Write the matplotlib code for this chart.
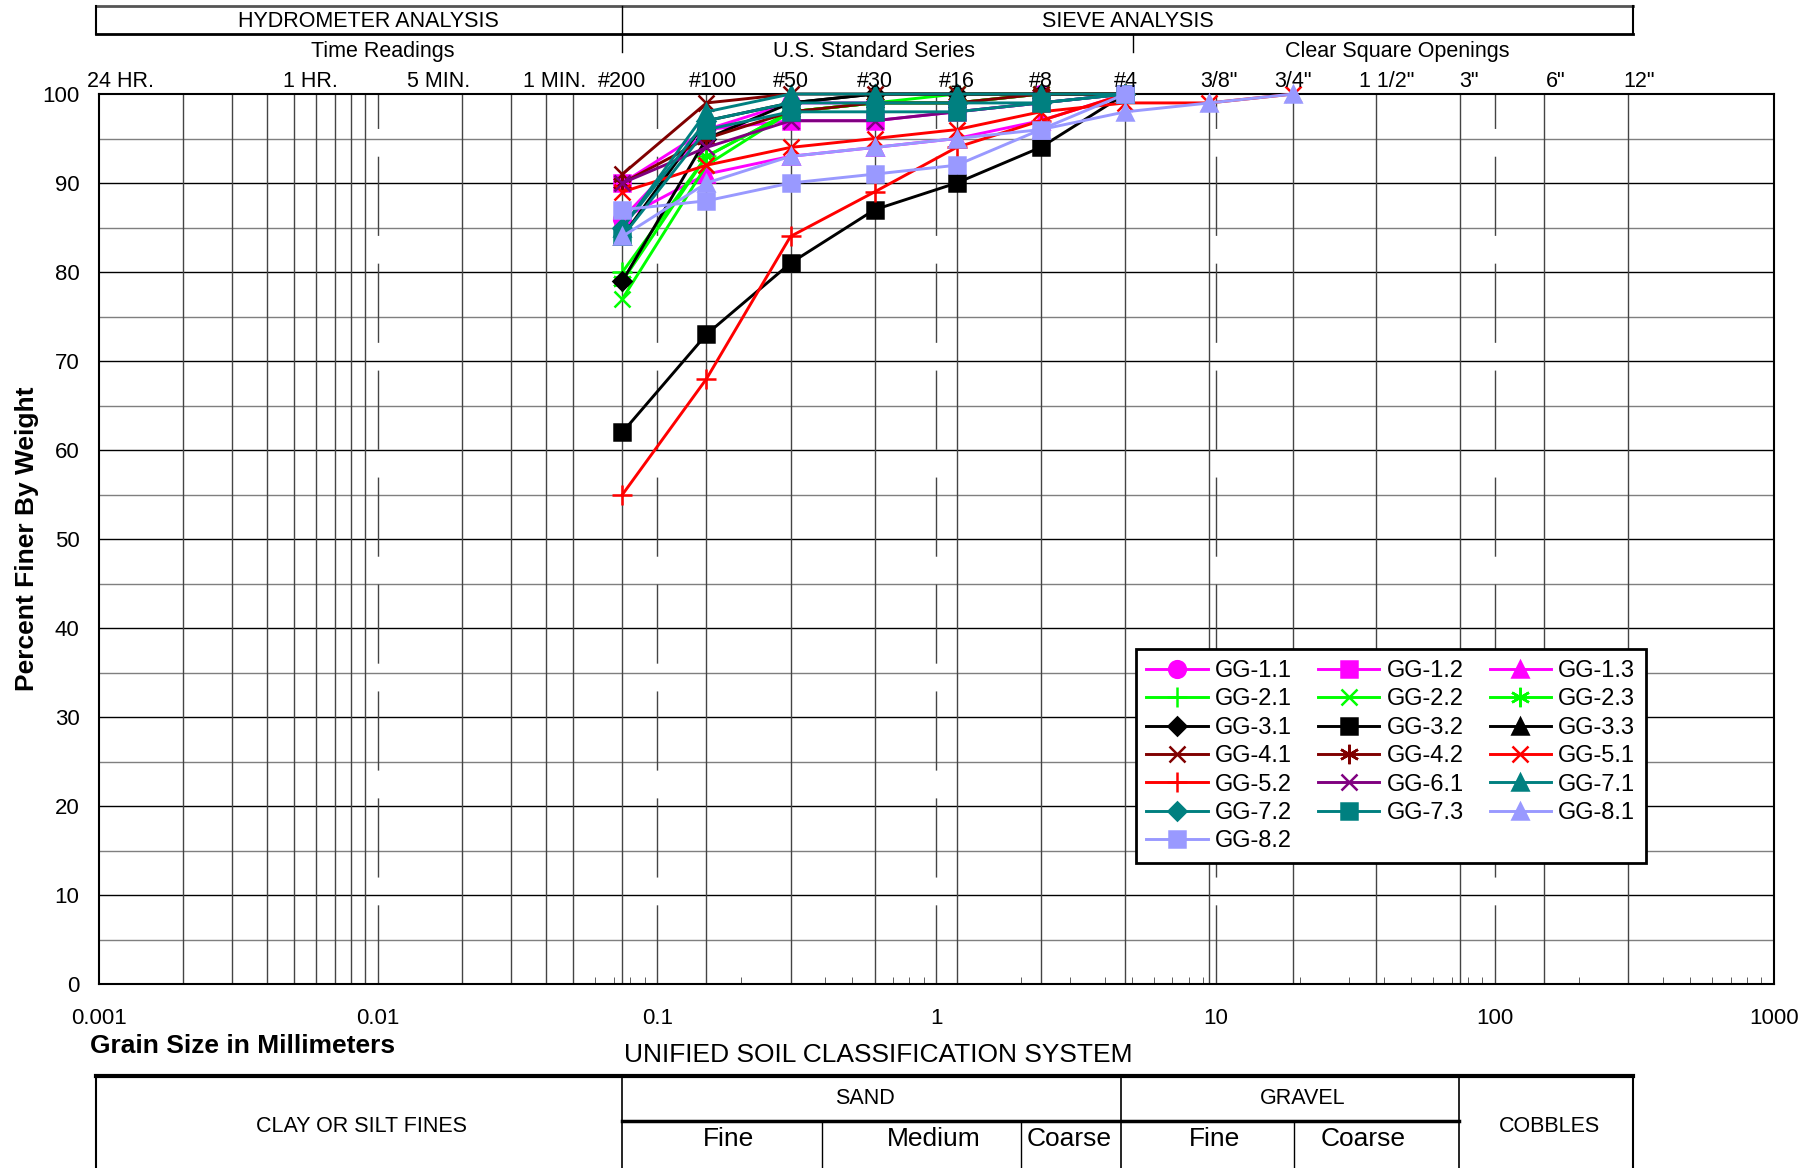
import numpy as np
import matplotlib.pyplot as plt
from matplotlib.lines import Line2D

plt.rcParams['font.family'] = ['Liberation Sans', 'DejaVu Sans']

# sieve openings in mm (#200 ... 3/4")
sieve = [0.075, 0.15, 0.3, 0.6, 1.18, 2.36, 4.75, 9.5, 19.0]

# percent finer
gg_1_1 = [86, 96, 99, 99, 99, 100, 100]
gg_1_2 = [90, 96, 97, 97, 98, 99, 100]
gg_1_3 = [86, 91, 93, 94, 95, 97, 100]
gg_2_1 = [80, 93, 98, 99, 99, 100, 100]
gg_2_2 = [77, 92, 98, 99, 100, 100, 100]
gg_2_3 = [79, 93, 98, 99, 99, 100, 100]
gg_3_1 = [79, 95, 99, 100, 100, 100, 100]
gg_3_2 = [62, 73, 81, 87, 90, 94, 100]
gg_3_3 = [84, 97, 99, 100, 100, 100, 100]
gg_4_1 = [91, 99, 100, 100, 100, 100, 100]
gg_4_2 = [90, 95, 98, 99, 99, 100, 100]
gg_5_1 = [89, 92, 94, 95, 96, 98, 99, 99, 100]
gg_5_2 = [55, 68, 84, 89, 94, 97, 100]
gg_6_1 = [90, 94, 97, 97, 98, 99, 100]
gg_7_1 = [85, 98, 100, 100, 100, 100, 100]
gg_7_2 = [85, 97, 99, 99, 99, 99, 100]
gg_7_3 = [84, 96, 98, 98, 98, 99, 100]
gg_8_1 = [84, 90, 93, 94, 95, 96, 98, 99, 100]
gg_8_2 = [87, 88, 90, 91, 92, 96, 100]

names = ["GG-1.1", "GG-1.2", "GG-1.3", "GG-2.1", "GG-2.2", "GG-2.3",
         "GG-3.1", "GG-3.2", "GG-3.3", "GG-4.1", "GG-4.2", "GG-5.1",
         "GG-5.2", "GG-6.1", "GG-7.1", "GG-7.2", "GG-7.3", "GG-8.1", "GG-8.2"]
values = [gg_1_1, gg_1_2, gg_1_3, gg_2_1, gg_2_2, gg_2_3, gg_3_1, gg_3_2,
          gg_3_3, gg_4_1, gg_4_2, gg_5_1, gg_5_2, gg_6_1, gg_7_1, gg_7_2,
          gg_7_3, gg_8_1, gg_8_2]

# top labels
sieve_labels = ["#200", "#100", "#50", "#30", "#16", "#8", "#4", '3/8"', '3/4"',
                '1 1/2"', '3"', '6"', '12"']
sieve_label_pos = [0.075, 0.158, 0.3, 0.6, 1.18, 2.36, 4.75, 10.3, 19.0,
                   41.0, 81.0, 165.0, 330.0]
time_labels = ["24 HR.", "1 HR.", "5 MIN.", "1 MIN."]
time_label_pos = [0.00119, 0.0057, 0.0164, 0.0427]

# vertical grid
grid_solid = [0.002, 0.003, 0.004, 0.005, 0.006, 0.007, 0.008, 0.009,
              0.02, 0.03, 0.04, 0.05, 0.075, 0.15, 0.3, 0.6, 1.18, 2.36,
              4.75, 9.5, 19.0, 37.5, 75.0, 150.0, 300.0]
grid_dashed = [0.01, 0.1, 1.0, 10.0, 100.0]

magenta = "#FF00FF"
green = "#00FF00"
dred = "#800000"
red = "#FF0000"
purple = "#800080"
teal = "#008080"
lav = "#9999FF"
star = (6, 2, 0)
styles = [
    (magenta, "o", 12), (magenta, "s", 11), (magenta, "^", 12),
    (green, "+", 14), (green, "x", 11), (green, star, 14),
    ("black", "D", 9), ("black", "s", 11), ("black", "^", 12),
    (dred, "x", 11), (dred, star, 14), (red, "x", 11),
    (red, "+", 14), (purple, "x", 11), (teal, "^", 12),
    (teal, "D", 9), (teal, "s", 11), (lav, "^", 12), (lav, "s", 11),
]

fig = plt.figure(figsize=(18.2, 11.68), dpi=100)
ax = fig.add_axes([0.0544, 0.1575, 0.9203, 0.762])
ax.set_xscale("log")
ax.set_xlim(0.001, 1000)
ax.set_ylim(0, 100)

# horizontal grid
for yv in range(5, 100, 10):
    ax.axhline(yv, color="#7f7f7f", lw=1.0, zorder=1)
for yv in range(10, 100, 10):
    ax.axhline(yv, color="black", lw=1.0, zorder=1)
for xv in grid_solid:
    ax.axvline(xv, color="#444444", lw=1.0, zorder=1)
for xv in grid_dashed:
    ax.axvline(xv, color="#444444", lw=1.0, dashes=(57, 20), zorder=1)

handles = []
for nm, v, (c, m, ms) in zip(names, values, styles):
    h, = ax.plot(sieve[:len(v)], v, color=c, marker=m, ms=ms, lw=2.1,
                 mec=c, mfc=c, mew=1.8, label=nm, zorder=3, clip_on=False)
    handles.append(h)

order = list(range(0, 19, 3)) + list(range(1, 19, 3)) + list(range(2, 19, 3))
leg = ax.legend([handles[i] for i in order], [names[i] for i in order],
                ncol=3, loc="upper left", bbox_to_anchor=(0.619, 0.376),
                borderaxespad=0, fontsize=17, handlelength=2.6,
                handletextpad=0.3, columnspacing=1.1, labelspacing=0.27,
                borderpad=0.45, fancybox=False, framealpha=1,
                edgecolor="black")
leg.get_frame().set_linewidth(2)
leg.set_zorder(5)

ax.set_yticks(range(0, 101, 10))
ax.set_xticks([0.001, 0.01, 0.1, 1, 10, 100, 1000])
ax.set_xticklabels(["0.001", "0.01", "0.1", "1", "10", "100", "1000"])
ax.tick_params(axis="both", which="major", length=0, labelsize=16)
ax.tick_params(axis="x", which="major", pad=17)
ax.tick_params(axis="y", which="major", pad=14)
ax.tick_params(axis="x", which="minor", direction="in", length=5,
               color="#444444", labelbottom=False)
for s in ax.spines.values():
    s.set_linewidth(1.5)

ax.set_ylabel("Percent Finer By Weight", fontsize=19, fontweight="bold")
ax.yaxis.set_label_coords(-0.036, 0.5)

# top labels above the plot
tr = ax.get_xaxis_transform()
for p, lab in zip(sieve_label_pos, sieve_labels):
    ax.text(p, 1.014, lab, transform=tr, ha="center", va="center", fontsize=15.5)
for p, lab in zip(time_label_pos, time_labels):
    ax.text(p, 1.014, lab, transform=tr, ha="center", va="center", fontsize=15.5)

# header boxes (figure coords)
def fline(x0, y0, x1, y1, lw=1.5, c="black"):
    fig.add_artist(Line2D([x0, x1], [y0, y1], transform=fig.transFigure,
                          color=c, lw=lw))

L, R = 0.0527, 0.8973
fline(L, 0.9949, R, 0.9949, lw=2, c="#555555")
fline(L, 0.9709, R, 0.9709, lw=2)
fline(L, 0.9709, L, 0.9949)
fline(R, 0.9709, R, 0.9949)
fline(0.3418, 0.9555, 0.3418, 0.9949, lw=1)
fline(0.6225, 0.9555, 0.6225, 0.9709, lw=1)
fig.text(0.2027, 0.9815, "HYDROMETER ANALYSIS", ha="center", va="center", fontsize=15.5)
fig.text(0.6198, 0.9815, "SIEVE ANALYSIS", ha="center", va="center", fontsize=15.5)
fig.text(0.2104, 0.9555, "Time Readings", ha="center", va="center", fontsize=15.5)
fig.text(0.4802, 0.9555, "U.S. Standard Series", ha="center", va="center", fontsize=15.5)
fig.text(0.7677, 0.9555, "Clear Square Openings", ha="center", va="center", fontsize=15.5)

# bottom labels
fig.text(0.0497, 0.1045, "Grain Size in Millimeters", ha="left", va="center",
         fontsize=19, fontweight="bold")
fig.text(0.4827, 0.0965, "UNIFIED SOIL CLASSIFICATION SYSTEM", ha="center",
         va="center", fontsize=19)

# USCS table
T = 0.0788
fline(L, T, R, T, lw=3)
fline(L, 0, L, T, lw=1.5)
fline(R, 0, R, T, lw=1.5)
fline(0.3418, 0, 0.3418, T, lw=1.2)
fline(0.616, 0, 0.616, T, lw=1.2)
fline(0.8016, 0, 0.8016, T, lw=1.2)
fline(0.3418, 0.0402, 0.8016, 0.0402, lw=2.5)
fline(0.4516, 0, 0.4516, 0.0402, lw=1)
fline(0.561, 0, 0.561, 0.0402, lw=1)
fline(0.711, 0, 0.711, 0.0402, lw=1)
fig.text(0.1984, 0.0357, "CLAY OR SILT FINES", ha="center", va="center", fontsize=15.5)
fig.text(0.4751, 0.0597, "SAND", ha="center", va="center", fontsize=15.5)
fig.text(0.7156, 0.0597, "GRAVEL", ha="center", va="center", fontsize=15.5)
fig.text(0.8515, 0.0357, "COBBLES", ha="center", va="center", fontsize=15.5)
for xx, t in zip([0.4005, 0.5128, 0.5874, 0.6671, 0.7487],
                 ["Fine", "Medium", "Coarse", "Fine", "Coarse"]):
    fig.text(xx, 0.0251, t, ha="center", va="center", fontsize=19)

fig.savefig("out.png", dpi=100)
